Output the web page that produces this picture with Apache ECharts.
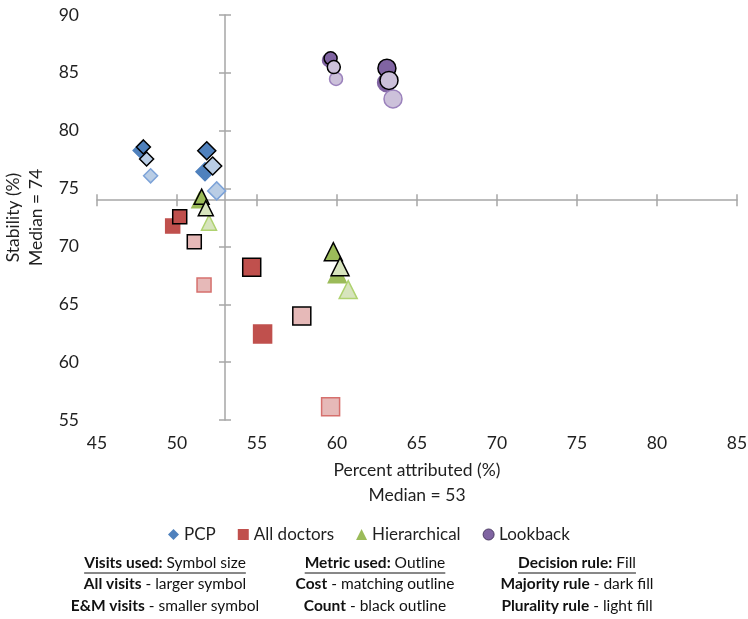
<!DOCTYPE html>
<html><head><meta charset="utf-8">
<script src="https://cdn.jsdelivr.net/npm/echarts@6/dist/echarts.min.js"></script>
<style>html,body{margin:0;padding:0;background:#fff}#c{width:748px;height:619px}</style>
</head><body><div id="c"></div>
<script>
// ---- data ----
const categories = ['PCP', 'All doctors', 'Hierarchical', 'Lookback'];
// point order within each group
const visitsUsed   = ['E&M', 'E&M', 'E&M', 'E&M', 'All', 'All', 'All', 'All'];
const metricUsed   = ['Cost', 'Count', 'Cost', 'Count', 'Cost', 'Count', 'Cost', 'Count'];
const decisionRule = ['Majority', 'Majority', 'Plurality', 'Plurality', 'Majority', 'Majority', 'Plurality', 'Plurality'];

const pcpX = [47.7, 47.9, 48.35, 48.1, 51.75, 51.86, 52.48, 52.23];
const pcpY = [78.3, 78.6, 76.1, 77.55, 76.45, 78.27, 74.8, 76.95];
const allDocX = [49.73, 50.17, 51.69, 51.08, 55.35, 54.67, 59.6, 57.8];
const allDocY = [71.76, 72.57, 66.66, 70.4, 62.43, 68.19, 56.15, 63.98];
const hierX = [51.4, 51.54, 52.0, 51.8, 60.02, 59.77, 60.7, 60.19];
const hierY = [74.0, 74.3, 72.05, 73.3, 67.64, 69.55, 66.27, 68.25];
const lookX = [59.5, 59.6, 59.94, 59.8, 63.1, 63.12, 63.5, 63.25];
const lookY = [86.1, 86.26, 84.47, 85.5, 84.15, 85.4, 82.75, 84.35];

const medianX = 53;
const medianY = 74;
const xTickLabels = ['45', '50', '55', '60', '65', '70', '75', '80', '85'];
const yTickLabels = ['55', '60', '65', '70', '75', '80', '85', '90'];

// ---- styles ----
const FONT = 'Lato, "Noto Sans", sans-serif';
const TXT = '#1f1f1f';
const AX = '#A6A6A6';
const groupStyle = {
  'PCP':          { symbol: 'diamond',  dark: '#4F81BD', light: '#B9CDE5', lightLine: '#7DA3D8', small: 14, large: 18 },
  'All doctors':  { symbol: 'rect',     dark: '#C0504D', light: '#E6B9B8', lightLine: '#D6706D', small: 14, large: 18 },
  'Hierarchical': { symbol: 'triangle', dark: '#9BBB59', light: '#D7E4BD', lightLine: '#AFD270', small: 15, large: 18 },
  'Lookback':     { symbol: 'circle',   dark: '#8064A2', light: '#CCC1DA', lightLine: '#9B82BC', small: 13, large: 18 }
};
const groupData = {
  'PCP': [pcpX, pcpY],
  'All doctors': [allDocX, allDocY],
  'Hierarchical': [hierX, hierY],
  'Lookback': [lookX, lookY]
};

const xMin = 45, xMax = 85, yMin = 55, yMax = 90;
const G = { left: 97, top: 15, width: 640, height: 405 };

const series = categories.map(name => {
  const st = groupStyle[name];
  const [xs, ys] = groupData[name];
  const data = xs.map((x, i) => {
    const isDark = decisionRule[i] === 'Majority';
    const fill = isDark ? st.dark : st.light;
    const border = metricUsed[i] === 'Count' ? '#000000' : (isDark ? st.dark : st.lightLine);
    return {
      value: [x, ys[i]],
      symbolSize: visitsUsed[i] === 'All' ? st.large : st.small,
      itemStyle: { color: fill, borderColor: border, borderWidth: 1.5, opacity: 1 }
    };
  });
  return {
    name, type: 'scatter', xAxisIndex: 0, yAxisIndex: 0,
    symbol: st.symbol,
    itemStyle: { color: st.dark, opacity: 1 },
    emphasis: { disabled: true },
    data
  };
});

const baseX = { type: 'value', min: xMin, max: xMax, interval: 5, splitLine: { show: false }, gridIndex: 0 };
const baseY = { type: 'value', min: yMin, max: yMax, interval: 5, splitLine: { show: false }, gridIndex: 0 };
const xLineOffset = -(medianY - yMin) / (yMax - yMin) * G.height;
const yLineOffset = -(medianX - xMin) / (xMax - xMin) * G.width;

const option = {
  animation: false,
  textStyle: { fontFamily: FONT },
  grid: { left: G.left, top: G.top, width: G.width, height: G.height, containLabel: false, outerBoundsMode: 'none' },
  legend: {
    left: 163, top: 521, itemWidth: 11, itemHeight: 11, itemGap: 22,
    textStyle: { fontFamily: FONT, fontSize: 17, color: TXT },
    data: categories.map(n => n === 'Lookback'
      ? { name: n, itemStyle: { color: '#8064A2', borderColor: '#4B3A63', borderWidth: 1 } }
      : { name: n })
  },
  xAxis: [
    Object.assign({}, baseX, {
      position: 'bottom',
      axisLine: { show: false }, axisTick: { show: false },
      axisLabel: { margin: 14, fontSize: 17.5, color: TXT, fontFamily: FONT,
        formatter: v => xTickLabels[Math.round((v - xMin) / 5)] },
      name: 'Percent attributed (%)\nMedian = 53', nameLocation: 'middle', nameGap: 38,
      nameTextStyle: { fontSize: 17.5, color: TXT, lineHeight: 25, fontFamily: FONT }
    }),
    Object.assign({}, baseX, {
      position: 'bottom', offset: xLineOffset,
      axisLine: { show: true, onZero: false, lineStyle: { color: AX, width: 1.5 } },
      axisTick: { show: true, length: 6, lineStyle: { color: AX, width: 1.5 } },
      axisLabel: { show: false }
    }),
    Object.assign({}, baseX, {
      position: 'bottom', offset: xLineOffset,
      axisLine: { show: false, onZero: false },
      axisTick: { show: true, inside: true, length: 6, lineStyle: { color: AX, width: 1.5 } },
      axisLabel: { show: false }
    })
  ],
  yAxis: [
    Object.assign({}, baseY, {
      position: 'left',
      axisLine: { show: false }, axisTick: { show: false },
      axisLabel: { margin: 18, fontSize: 17.5, color: TXT, fontFamily: FONT,
        formatter: v => yTickLabels[Math.round((v - yMin) / 5)] },
      name: 'Stability (%)\nMedian = 74', nameLocation: 'middle', nameGap: 42, nameRotate: 90,
      nameTextStyle: { fontSize: 17.5, color: TXT, lineHeight: 23, fontFamily: FONT }
    }),
    Object.assign({}, baseY, {
      position: 'left', offset: yLineOffset,
      axisLine: { show: true, onZero: false, lineStyle: { color: AX, width: 1.5 } },
      axisTick: { show: true, length: 6, lineStyle: { color: AX, width: 1.5 } },
      axisLabel: { show: false }
    }),
    Object.assign({}, baseY, {
      position: 'left', offset: yLineOffset,
      axisLine: { show: false, onZero: false },
      axisTick: { show: true, inside: true, length: 6, lineStyle: { color: AX, width: 1.5 } },
      axisLabel: { show: false }
    })
  ],
  series
};

// ---- key text block ----
const keyCols = [
  { cx: 165, title: ['Visits used:', ' Symbol size'], lines: [['All visits', ' - larger symbol'], ['E&M visits', ' - smaller symbol']] },
  { cx: 375, title: ['Metric used:', ' Outline'], lines: [['Cost', ' - matching outline'], ['Count', ' - black outline']] },
  { cx: 577, title: ['Decision rule:', ' Fill'], lines: [['Majority rule', ' - dark fill'], ['Plurality rule', ' - light fill']] }
];
const KEY_FS = 15.5;
const ctx = document.createElement('canvas').getContext('2d');
function w(t, bold) { ctx.font = (bold ? 'bold ' : '') + KEY_FS + 'px ' + FONT; return ctx.measureText(t).width; }
const graphics = [];
const rowY = [563, 584, 606];
keyCols.forEach(col => {
  const rows = [col.title].concat(col.lines);
  rows.forEach((r, ri) => {
    graphics.push({
      type: 'text', x: col.cx, y: rowY[ri],
      style: {
        text: '{b|' + r[0] + '}{n|' + r[1] + '}',
        rich: { b: { fontWeight: 'bold', fontSize: KEY_FS, fontFamily: FONT, fill: '#111' },
                n: { fontSize: KEY_FS, fontFamily: FONT, fill: '#111' } },
        align: 'center', verticalAlign: 'middle', fill: '#111'
      }
    });
    if (ri === 0) {
      const tw = w(r[0], true) + w(r[1], false);
      graphics.push({
        type: 'line', shape: { x1: col.cx - tw / 2, y1: rowY[0] + 10, x2: col.cx + tw / 2, y2: rowY[0] + 10 },
        style: { stroke: '#111', lineWidth: 1 }
      });
    }
  });
});
option.graphic = graphics;

const chart = echarts.init(document.getElementById('c'));
chart.setOption(option);
</script>
</body></html>
